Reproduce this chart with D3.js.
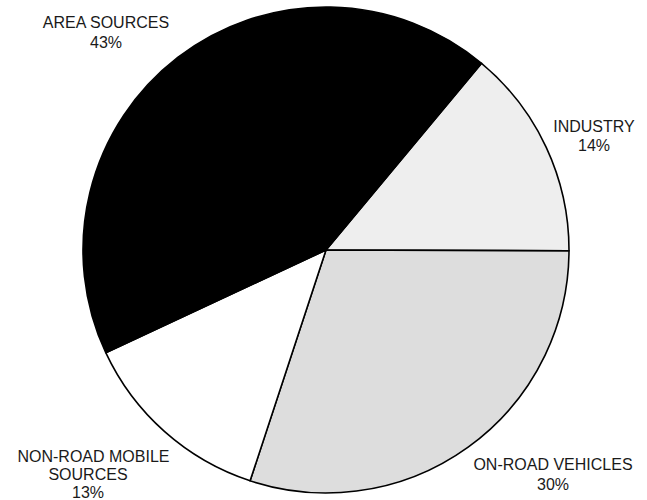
<!DOCTYPE html>
<html>
<head>
<meta charset="utf-8">
<script src="https://cdn.jsdelivr.net/npm/d3@7"></script>
<style>
  html, body { margin: 0; padding: 0; background: #fff; }
  svg { display: block; }
</style>
</head>
<body>
<script>
// Data (in drawing order, clockwise starting from Industry)
const categories = ["INDUSTRY", "ON-ROAD VEHICLES", "NON-ROAD MOBILE SOURCES", "AREA SOURCES"];
const values = [14, 30, 13, 43];
const labelLines = [["INDUSTRY"], ["ON-ROAD VEHICLES"], ["NON-ROAD MOBILE", "SOURCES"], ["AREA SOURCES"]];
const fills = ["#eeeeee", "#dddddd", "#ffffff", "#000000"];

const W = 647, H = 500;
const cx = 326, cy = 250, R = 243;

const svg = d3.select("body").append("svg").attr("width", W).attr("height", H);

const startDeg = 39.8;
const pie = d3.pie().sort(null).value(d => d)
  .startAngle(startDeg * Math.PI / 180)
  .endAngle((startDeg + 360) * Math.PI / 180);
const arcs = pie(values);
const arc = d3.arc().innerRadius(0).outerRadius(R);

const g = svg.append("g").attr("transform", `translate(${cx},${cy})`);
g.selectAll("path").data(arcs).enter().append("path")
  .attr("d", arc)
  .attr("fill", (d, i) => fills[i])
  .attr("stroke", "#000")
  .attr("stroke-width", 1.6)
  .attr("stroke-linejoin", "round");

// Label anchor positions: per-line center x values, first baseline y, line height
const labelPos = [
  { xs: [594, 594], y: 132, lh: 19.2 },
  { xs: [553, 553], y: 470, lh: 19.6 },
  { xs: [93.5, 88, 88], y: 461.5, lh: 18.4 },
  { xs: [106, 106], y: 28.3, lh: 19.4 }
];
const total = d3.sum(values);
labelPos.forEach((p, i) => {
  const lines = labelLines[i].concat([Math.round(values[i] / total * 100) + "%"]);
  const t = svg.append("text")
    .attr("text-anchor", "middle")
    .attr("font-family", "Arial, 'Liberation Sans', sans-serif")
    .attr("font-size", 16)
    .attr("fill", "#1a1a1a");
  lines.forEach((ln, j) => {
    t.append("tspan").attr("x", p.xs[j]).attr("y", p.y + j * p.lh).text(ln);
  });
});
</script>
</body>
</html>
